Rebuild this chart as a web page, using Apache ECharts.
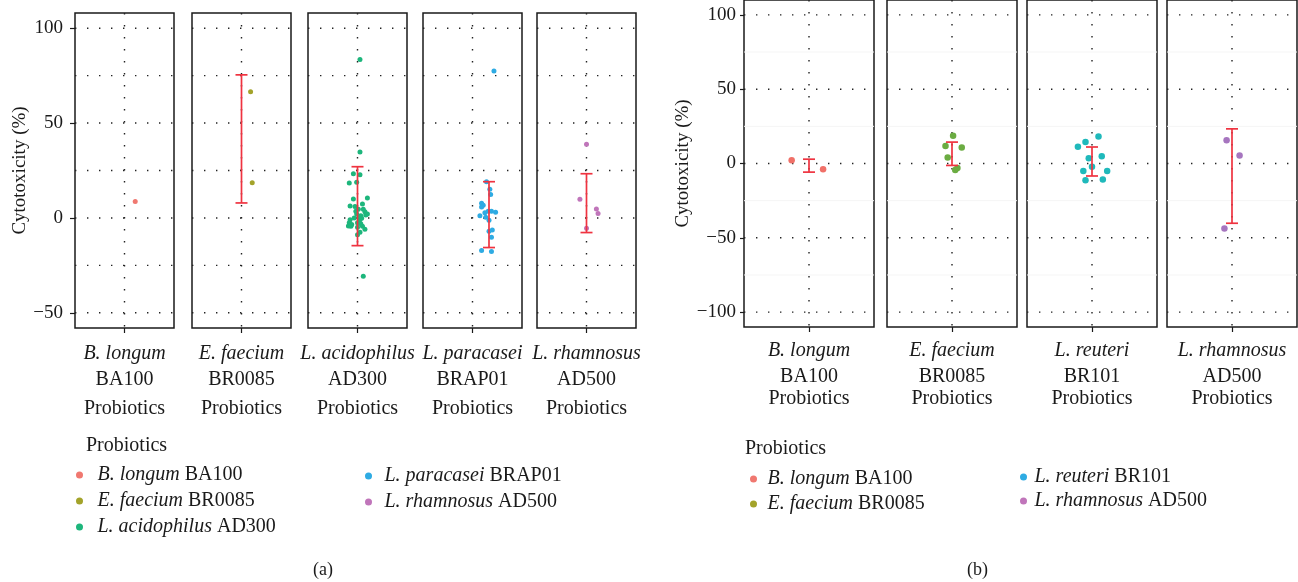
<!DOCTYPE html>
<html>
<head>
<meta charset="utf-8">
<script src="https://cdn.jsdelivr.net/npm/echarts@6/dist/echarts.min.js"></script>
<style>
html, body { margin: 0; padding: 0; background: #fff; }
#chart { width: 1298px; height: 582px; }
</style>
</head>
<body>
<div id="chart"></div>
<script>
var FONT = '"Liberation Serif", "DejaVu Serif", serif';
var INK = '#1a1a1a';
var ERR = '#EF3340';

// ---- panel (a) data ----
var speciesA = ['B. longum', 'E. faecium', 'L. acidophilus', 'L. paracasei', 'L. rhamnosus'];
var strainsA = ['BA100', 'BR0085', 'AD300', 'BRAP01', 'AD500'];
var colorsA = ['#F07870', '#A3A32A', '#1DB67C', '#2EABE3', '#C075BA'];
var jitterA = [
    [0.13],
    [0.11, 0.13],
    [0.03, 0.03, -0.05, 0.03, -0.10, -0.01, 0.12, -0.05, 0.06, -0.09, -0.03, 0.01, 0.07, 0.09, 0.12, -0.01, 0.04, 0.05,
     -0.09, -0.10, 0.00, 0.03, -0.11, -0.08, 0.00, 0.06, 0.09, 0.03, 0.00, 0.07, 0.02, -0.02, 0.10, -0.07, 0.04, -0.04],
    [0.26, 0.17, 0.21, 0.22, 0.11, 0.13, 0.11, 0.15, 0.09, 0.19, 0.23, 0.28, 0.16, 0.20, 0.24, 0.20, 0.23, 0.11, 0.23],
    [0.00, -0.08, 0.12, 0.14, 0.00]
];
var valuesA = [
    [8.6],
    [66.5, 18.6],
    [83.5, 34.7, 23.3, 22.8, 18.4, 18.8, 10.5, 10.0, 7.4, 6.3, 6.0, 4.6, 4.6, 3.2, 2.1, 2.1, 1.1, -0.2,
     -1.0, -2.5, -2.5, -1.0, -4.2, -4.4, -4.9, -4.4, -6.0, -7.5, -8.8, -30.7, 0.5, 3.5, 1.5, -3.5, -3.0, 0.0],
    [77.5, 19.1, 15.1, 12.3, 7.7, 6.7, 5.8, 2.8, 1.1, 3.5, 3.5, 3.0, 0.4, -1.2, -6.3, -7.0, -10.2, -17.2, -17.7],
    [38.8, 9.8, 4.7, 2.3, -5.4]
];
var errXA = [null, 0, 0, 0.2, 0];
var errLowA = [null, 7.9, -14.6, -15.6, -7.7];
var errHighA = [null, 75.4, 27.0, 19.1, 23.3];
var yTicksA = [-50, 0, 50, 100];
var gridYA = [-50, -25, 0, 25, 50, 75, 100];

// ---- panel (b) data ----
var speciesB = ['B. longum', 'E. faecium', 'L. reuteri', 'L. rhamnosus'];
var strainsB = ['BA100', 'BR0085', 'BR101', 'AD500'];
var colorsB = ['#F07068', '#6BAC42', '#1FB9BB', '#A675BF'];
var legendColorsB = ['#F07870', '#A3A32A', '#2EABE3', '#C075BA'];
var jitterB = [
    [-0.16, 0.13],
    [0.01, -0.06, 0.09, -0.04, 0.03, 0.05],
    [0.06, -0.06, -0.13, 0.09, -0.03, 0.00, -0.08, 0.14, -0.06, 0.10],
    [-0.05, 0.07, -0.07]
];
var valuesB = [
    [2.2, -3.8],
    [18.7, 11.8, 10.7, 4.0, -4.4, -3.1],
    [18.2, 14.4, 11.3, 4.9, 3.6, -2.2, -5.1, -5.1, -11.3, -10.7],
    [15.6, 5.3, -43.8]
];
var errXB = [0, 0, 0, 0];
var errLowB = [-5.8, -1.3, -8.4, -40.2];
var errHighB = [2.9, 14.4, 11.1, 23.3];
var yTicksB = [-100, -50, 0, 50, 100];
var gridYB = [-100, -50, 0, 50, 100];
var minorYB = [-75, -25, 25, 75];

var panelA = {
    species: speciesA, strains: strainsA, colors: colorsA, jitter: jitterA, values: valuesA,
    errX: errXA, errLow: errLowA, errHigh: errHighA, yTicks: yTicksA, gridY: gridYA, minorY: [],
    lefts: [75, 192, 308, 423, 537], width: 99, top: 13, height: 315,
    yMin: -58, yMax: 108, dot: 5, labelMargin: 13, lastLine: 32,
    tickMargin: 12, tickLen: 5, nameGap: 45
};
var panelB = {
    species: speciesB, strains: strainsB, colors: colorsB, jitter: jitterB, values: valuesB,
    errX: errXB, errLow: errLowB, errHigh: errHighB, yTicks: yTicksB, gridY: gridYB, minorY: minorYB,
    lefts: [744, 887, 1027, 1167], width: 130, top: -3, height: 330,
    yMin: -110, yMax: 110, dot: 6.5, labelMargin: 11, lastLine: 18,
    tickMargin: 8, tickLen: 4, nameGap: 51
};

function hLine(params, api) {
    var cs = params.coordSys;
    var y = api.coord([0, api.value(1)])[1];
    return {
        type: 'line',
        shape: { x1: cs.x, y1: y, x2: cs.x + cs.width, y2: y },
        style: { stroke: '#222', lineWidth: 1.4, lineDash: [1.4, 10.6] }
    };
}
function minorLine(params, api) {
    var cs = params.coordSys;
    var y = api.coord([0, api.value(1)])[1];
    return {
        type: 'line',
        shape: { x1: cs.x, y1: y, x2: cs.x + cs.width, y2: y },
        style: { stroke: '#f5f5f5', lineWidth: 1 }
    };
}
function vLine(params, api) {
    var cs = params.coordSys;
    var x = api.coord([api.value(0), 0])[0];
    return {
        type: 'line',
        shape: { x1: x, y1: cs.y, x2: x, y2: cs.y + cs.height },
        style: { stroke: '#222', lineWidth: 1.4, lineDash: [1.4, 10.6] }
    };
}
function errBar(params, api) {
    var x = api.value(0);
    var lo = api.coord([x, api.value(1)]);
    var hi = api.coord([x, api.value(2)]);
    var w = 6;
    return {
        type: 'group',
        children: [
            { type: 'line', shape: { x1: lo[0], y1: lo[1], x2: hi[0], y2: hi[1] }, style: { stroke: ERR, lineWidth: 1.7 } },
            { type: 'line', shape: { x1: hi[0] - w, y1: hi[1], x2: hi[0] + w, y2: hi[1] }, style: { stroke: ERR, lineWidth: 1.7 } },
            { type: 'line', shape: { x1: lo[0] - w, y1: lo[1], x2: lo[0] + w, y2: lo[1] }, style: { stroke: ERR, lineWidth: 1.7 } }
        ]
    };
}
function minus(v) {
    return String(v).replace('-', '\u2212');
}

var grids = [], xAxes = [], yAxes = [], series = [];

function addPanel(p) {
    p.species.forEach(function (sp, i) {
        var gi = grids.length;
        var strain = p.strains[i];
        grids.push({
            left: p.lefts[i], top: p.top, width: p.width, height: p.height,
            show: true, borderColor: INK, borderWidth: 1.5, backgroundColor: 'transparent'
        });
        xAxes.push({
            gridIndex: gi, type: 'value', min: -0.6, max: 0.6, position: 'bottom',
            axisLine: { show: false, onZero: false },
            splitLine: { show: false },
            axisTick: { show: true, customValues: [0], length: 5, lineStyle: { color: INK, width: 1.2 } },
            axisLabel: {
                customValues: [0],
                margin: p.labelMargin,
                fontFamily: FONT, fontSize: 20, color: INK,
                formatter: function () {
                    return '{i|' + sp + '}\n{s|' + strain + '}\n{p|Probiotics}';
                },
                rich: {
                    i: { fontFamily: FONT, fontSize: 20, fontStyle: 'italic', color: INK, lineHeight: 26 },
                    s: { fontFamily: FONT, fontSize: 20, color: INK, lineHeight: 26 },
                    p: { fontFamily: FONT, fontSize: 20, color: INK, lineHeight: p.lastLine }
                }
            }
        });
        yAxes.push({
            gridIndex: gi, type: 'value', min: p.yMin, max: p.yMax, position: 'left',
            show: i === 0,
            axisLine: { show: false, onZero: false },
            splitLine: { show: false },
            axisTick: { show: true, customValues: p.yTicks, length: p.tickLen, lineStyle: { color: INK, width: 1.2 } },
            axisLabel: {
                customValues: p.yTicks, margin: p.tickMargin,
                fontFamily: FONT, fontSize: 19, color: INK,
                formatter: minus
            },
            name: 'Cytotoxicity (%)',
            nameLocation: 'middle',
            nameGap: p.nameGap,
            nameTextStyle: { fontFamily: FONT, fontSize: 19, color: INK }
        });
        if (p.minorY.length) {
            series.push({
                type: 'custom', xAxisIndex: gi, yAxisIndex: gi, silent: true, z: 1,
                data: p.minorY.map(function (v) { return [0, v]; }),
                renderItem: minorLine
            });
        }
        series.push({
            type: 'custom', xAxisIndex: gi, yAxisIndex: gi, silent: true, z: 1,
            data: p.gridY.map(function (v) { return [0, v]; }),
            renderItem: hLine
        });
        series.push({
            type: 'custom', xAxisIndex: gi, yAxisIndex: gi, silent: true, z: 1,
            data: [[0, 0]],
            renderItem: vLine
        });
        series.push({
            type: 'scatter', name: sp + ' ' + strain,
            xAxisIndex: gi, yAxisIndex: gi, z: 3, silent: true,
            symbolSize: p.dot,
            itemStyle: { color: p.colors[i], opacity: 1 },
            data: p.jitter[i].map(function (dx, k) { return [dx, p.values[i][k]]; })
        });
        if (p.errLow[i] !== null) {
            series.push({
                type: 'custom', xAxisIndex: gi, yAxisIndex: gi, silent: true, z: 4,
                encode: { x: 0, y: [1, 2] },
                data: [[p.errX[i], p.errLow[i], p.errHigh[i]]],
                renderItem: errBar
            });
        }
    });
}
addPanel(panelA);
addPanel(panelB);

function legendFormatter(name) {
    var k = name.indexOf(' ', name.indexOf(' ') + 1);
    return '{i|' + name.slice(0, k) + '}' + name.slice(k);
}
function legendItems(species, strains, colors, from, to) {
    var out = [];
    for (var i = from; i < to; i++) {
        out.push({ name: species[i] + ' ' + strains[i], itemStyle: { color: colors[i] } });
    }
    return out;
}
function legendBox(data, left, top, gap, iconW) {
    return {
        data: data, left: left, top: top, orient: 'vertical',
        padding: 0, itemGap: gap, itemWidth: iconW, itemHeight: 7,
        icon: 'circle', selectedMode: false, formatter: legendFormatter,
        textStyle: {
            fontFamily: FONT, fontSize: 20, color: INK, lineHeight: 20,
            rich: { i: { fontFamily: FONT, fontSize: 20, fontStyle: 'italic', color: INK, lineHeight: 20 } }
        }
    };
}

var titleStyle = { fontFamily: FONT, fontSize: 20, fontWeight: 'normal', color: INK };
var chart = echarts.init(document.getElementById('chart'), null, { renderer: 'canvas' });
var option = {
    animation: false,
    backgroundColor: '#fff',
    title: [
        { text: 'Probiotics', left: 86, top: 436, padding: 0, textStyle: titleStyle },
        { text: 'Probiotics', left: 745, top: 439, padding: 0, textStyle: titleStyle },
        { text: '(a)', left: 313, top: 561, padding: 0, textStyle: { fontFamily: FONT, fontSize: 18, fontWeight: 'normal', color: INK } },
        { text: '(b)', left: 967, top: 561, padding: 0, textStyle: { fontFamily: FONT, fontSize: 18, fontWeight: 'normal', color: INK } }
    ],
    legend: [
        legendBox(legendItems(speciesA, strainsA, colorsA, 0, 3), 76, 465, 6, 26),
        legendBox(legendItems(speciesA, strainsA, colorsA, 3, 5), 365, 466, 6, 22),
        legendBox(legendItems(speciesB, strainsB, legendColorsB, 0, 2), 750, 469, 5, 18),
        legendBox(legendItems(speciesB, strainsB, legendColorsB, 2, 4), 1020, 467, 4, 12)
    ],
    grid: grids,
    xAxis: xAxes,
    yAxis: yAxes,
    series: series
};
chart.setOption(option);
</script>
</body>
</html>
